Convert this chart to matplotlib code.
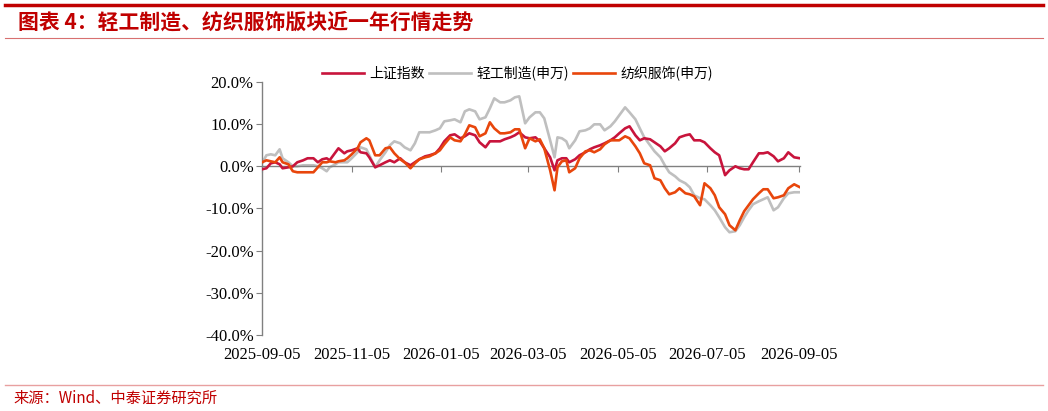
import matplotlib
matplotlib.use("Agg")
import matplotlib.pyplot as plt
import matplotlib.dates as mdates
from matplotlib.lines import Line2D
from matplotlib.font_manager import FontProperties
import pandas as pd

dates = [
    "2025-09-05", "2025-09-08", "2025-09-11", "2025-09-14", "2025-09-17", "2025-09-19",
    "2025-09-23", "2025-09-26", "2025-09-29", "2025-10-03", "2025-10-06", "2025-10-10",
    "2025-10-13", "2025-10-16", "2025-10-19", "2025-10-21", "2025-10-25", "2025-10-27",
    "2025-10-31", "2025-11-02", "2025-11-05", "2025-11-09", "2025-11-11", "2025-11-15",
    "2025-11-17", "2025-11-21", "2025-11-24", "2025-11-28", "2025-12-01", "2025-12-04",
    "2025-12-08", "2025-12-11", "2025-12-15", "2025-12-18", "2025-12-21", "2025-12-25",
    "2025-12-28", "2026-01-01", "2026-01-04", "2026-01-07", "2026-01-11", "2026-01-14",
    "2026-01-18", "2026-01-21", "2026-01-24", "2026-01-28", "2026-01-31", "2026-02-04",
    "2026-02-07", "2026-02-10", "2026-02-14", "2026-02-17", "2026-02-21", "2026-02-24",
    "2026-02-27", "2026-03-03", "2026-03-06", "2026-03-10", "2026-03-13", "2026-03-16",
    "2026-03-20", "2026-03-23", "2026-03-25", "2026-03-28", "2026-03-31", "2026-04-02",
    "2026-04-06", "2026-04-09", "2026-04-13", "2026-04-16", "2026-04-19", "2026-04-23",
    "2026-04-26", "2026-04-30", "2026-05-03", "2026-05-06", "2026-05-10", "2026-05-13",
    "2026-05-17", "2026-05-20", "2026-05-23", "2026-05-27", "2026-05-30", "2026-06-03",
    "2026-06-06", "2026-06-09", "2026-06-13", "2026-06-16", "2026-06-20", "2026-06-23",
    "2026-06-26", "2026-06-30", "2026-07-03", "2026-07-07", "2026-07-10", "2026-07-13",
    "2026-07-17", "2026-07-20", "2026-07-24", "2026-07-27", "2026-07-30", "2026-08-02",
    "2026-08-05", "2026-08-09", "2026-08-12", "2026-08-15", "2026-08-19", "2026-08-22",
    "2026-08-26", "2026-08-29", "2026-09-02", "2026-09-06",
]

# 上证指数 (%)
sh_index = [
    -0.71, -0.47, 0.71, 0.95, 0.47, -0.47, -0.24, 0.00, 0.95, 1.42, 1.90, 1.90,
    0.95, 1.66, 1.90, 1.42, 3.32, 4.27, 3.08, 3.55, 3.79, 4.27, 3.32, 3.08,
    2.13, -0.24, 0.24, 0.95, 1.42, 0.95, 1.90, 0.95, 0.24, 0.95, 1.66, 2.37,
    2.61, 3.08, 4.27, 5.92, 7.35, 7.58, 6.64, 7.11, 7.82, 7.35, 5.69, 4.50,
    5.92, 5.92, 5.92, 6.40, 6.87, 7.35, 8.06, 6.87, 6.64, 6.87, 5.92, 4.27,
    2.13, -0.95, 1.42, 1.90, 1.90, 0.95, 1.66, 2.61, 3.32, 4.03, 4.50, 4.98,
    5.45, 6.16, 6.87, 7.82, 9.00, 9.48, 7.35, 6.16, 6.64, 6.40, 5.69, 4.74,
    3.55, 4.27, 5.45, 6.87, 7.35, 7.58, 6.16, 6.16, 5.69, 4.27, 3.32, 2.61,
    -2.10, -0.95, 0.00, -0.47, -0.71, -0.71, 0.95, 3.08, 3.08, 3.32, 2.37, 1.18,
    1.90, 3.32, 2.13, 1.90,
]

# 轻工制造(申万) (%)
light_ind = [
    0.71, 2.61, 2.84, 2.61, 4.03, 1.90, 0.95, 0.00, 0.00, 0.24, 0.24, 0.24,
    0.00, -0.47, -1.18, -0.24, 0.47, 0.95, 0.95, 0.95, 1.90, 3.32, 4.50, 4.03,
    2.61, -0.24, 1.42, 3.32, 4.98, 5.92, 5.45, 4.50, 3.79, 5.45, 8.06, 8.06,
    8.06, 8.53, 9.00, 10.66, 10.90, 11.14, 10.43, 13.03, 13.51, 13.03, 11.14, 11.61,
    13.74, 16.11, 15.17, 15.17, 15.64, 16.35, 16.59, 10.19, 11.61, 12.80, 12.80, 11.37,
    6.16, 2.13, 6.87, 6.64, 5.92, 4.27, 6.16, 8.29, 8.53, 9.00, 9.95, 9.95,
    8.53, 9.48, 10.66, 12.09, 13.98, 12.80, 11.14, 9.00, 6.87, 4.98, 3.55, 2.13,
    0.24, -1.42, -2.37, -3.32, -4.03, -4.98, -6.87, -7.58, -7.82, -9.24, -10.43, -12.09,
    -14.45, -15.64, -15.40, -13.98, -12.09, -10.43, -9.00, -8.29, -7.82, -7.35, -10.43, -9.72,
    -7.58, -6.40, -6.16, -6.16,
]

# 纺织服饰(申万) (%)
textile = [
    0.95, 1.42, 1.18, 0.95, 2.13, 0.95, 0.47, -1.18, -1.42, -1.42, -1.42, -1.42,
    -0.24, 0.95, 0.95, 1.18, 0.95, 1.18, 1.42, 1.90, 2.84, 4.27, 5.69, 6.64,
    6.16, 2.61, 2.61, 4.27, 4.50, 3.08, 1.66, 0.95, -0.47, 0.71, 1.66, 2.13,
    2.37, 3.08, 3.79, 5.21, 6.87, 6.16, 5.92, 7.58, 9.72, 9.24, 7.11, 7.82,
    10.43, 9.00, 7.82, 7.82, 8.06, 8.77, 8.77, 4.27, 6.64, 5.92, 6.40, 4.27,
    -0.95, -5.69, -0.24, 1.18, 1.42, -1.42, -0.47, 1.90, 3.55, 3.79, 3.32, 4.03,
    5.21, 6.16, 6.16, 6.16, 7.11, 6.64, 4.74, 3.08, 0.71, 0.24, -2.84, -3.32,
    -5.21, -6.64, -6.16, -5.21, -6.40, -6.64, -7.11, -9.24, -4.03, -5.21, -6.87, -9.72,
    -11.37, -13.98, -15.17, -12.80, -10.66, -9.24, -7.82, -6.40, -5.45, -5.45, -7.58, -7.35,
    -6.87, -5.21, -4.27, -4.98,
]

tick_dates = ["2025-09-05", "2025-11-05", "2026-01-05", "2026-03-05",
              "2026-05-05", "2026-07-05", "2026-09-05"]
y_ticks = [-40, -30, -20, -10, 0, 10, 20]

red = "#C00000"
serif = "Liberation Serif"
cjk = "Noto Sans CJK SC"

fig = plt.figure(figsize=(10.48, 4.11), dpi=100)
ax = fig.add_axes([0.25, 0.185, 0.5134, 0.6156])

x = pd.to_datetime(dates)
ax.plot(x, sh_index, color="#C8143C", lw=1.9, label="上证指数", zorder=3)
ax.plot(x, light_ind, color="#BFBFBF", lw=1.9, label="轻工制造(申万)", zorder=2)
ax.plot(x, textile, color="#E8460C", lw=1.9, label="纺织服饰(申万)", zorder=4)

ax.set_ylim(-40, 20)
ax.set_xlim(pd.Timestamp("2025-09-05"), pd.Timestamp("2026-09-06"))
ax.set_yticks(y_ticks)
ax.yaxis.set_major_formatter(plt.FuncFormatter(lambda v, p: f"{v:.1f}%"))
ax.set_xticks(pd.to_datetime(tick_dates))
ax.xaxis.set_major_formatter(mdates.DateFormatter("%Y-%m-%d"))

for s in ["top", "right"]:
    ax.spines[s].set_visible(False)
ax.spines["bottom"].set_position(("data", 0))
for s in ["left", "bottom"]:
    ax.spines[s].set_color("#808080")
    ax.spines[s].set_linewidth(1.0)

ax.tick_params(axis="both", direction="out", length=4, color="#808080", labelsize=12)
ax.tick_params(axis="x", pad=126)
ax.tick_params(axis="y", pad=2)
for lab in ax.get_xticklabels() + ax.get_yticklabels():
    lab.set_fontfamily(serif)

fig.legend(*ax.get_legend_handles_labels(), loc="center",
           bbox_to_anchor=(0.494, 0.822), ncol=3, frameon=False,
           prop=FontProperties(family=cjk, size=10), handlelength=3.0,
           columnspacing=0.3, handletextpad=0.4)

fig.text(0.017, 0.946, "图表 4：轻工制造、纺织服饰版块近一年行情走势",
         color=red, fontsize=15, fontweight="bold", family=cjk, va="center")
fig.text(0.013, 0.032, "来源：Wind、中泰证券研究所", color=red,
         fontsize=11, family=cjk, va="center")

fig.add_artist(Line2D([0.005, 0.995], [0.988, 0.988], transform=fig.transFigure,
                      color=red, lw=2.5))
fig.add_artist(Line2D([0.005, 0.995], [0.9075, 0.9075], transform=fig.transFigure,
                      color="#D87070", lw=0.8))
fig.add_artist(Line2D([0.005, 0.995], [0.063, 0.063], transform=fig.transFigure,
                      color="#E8A0A0", lw=1.0))

fig.savefig("out.png", dpi=100)
